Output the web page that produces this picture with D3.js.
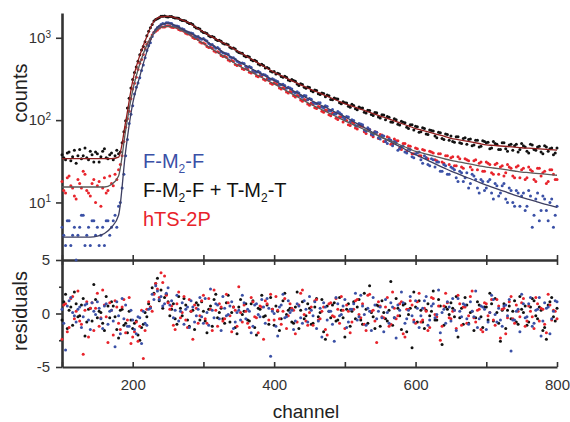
<!DOCTYPE html>
<html>
<head>
<meta charset="utf-8">
<script src="https://cdn.jsdelivr.net/npm/d3@7"></script>
<style>
  body { margin: 0; background: #fff; }
  svg { font-family: Arial, "Liberation Sans", sans-serif; }
</style>
</head>
<body>
<svg id="chart" width="570" height="422"></svg>
<script>
// channel grids: measured points on two interleaved grids (step 5), fits every 10
const channelsA   = d3.range(100, 801, 5);     // 100, 105, ... 800
const channelsB   = d3.range(102.5, 800, 5);   // 102.5, 107.5, ... 797.5
const fitChannels = d3.range(100, 801, 10);

const seriesNames = ["F-M_2-F", "F-M_2-F + T-M_2-T", "hTS-2P"];

// counts, grid A
const countsBlueA = [
  5,3,6,4,2,5,7,4,3,6,
  5,4,3,6,5,7,9,15,37,91,
  149,251,327,468,701,873,1149,1334,1452,1469,
  1528,1491,1390,1372,1288,1190,1154,1131,1019,987,
  978,912,822,781,763,682,648,629,571,548,
  505,495,451,447,402,381,379,358,342,313,
  309,294,268,263,251,238,214,214,190,197,
  183,165,158,163,140,146,129,119,127,118,
  103,109,101,86,91,88,73,77,66,71,
  59,64,52,57,55,43,48,41,45,36,
  39,41,30,35,28,33,31,24,29,22,
  27,25,18,23,20,15,22,19,13,18,
  15,19,11,16,13,17,10,14,9,13,
  12,8,14,5,11,6,12,8,10,5,
  9
];
const countsBlackA = [
  38,33,41,36,30,44,37,35,42,31,
  39,36,45,34,40,37,39,53,98,184,
  311,441,623,781,1058,1322,1597,1706,1823,1841,
  1794,1812,1741,1726,1622,1598,1491,1447,1318,1279,
  1163,1129,1031,1012,927,908,839,821,744,731,
  662,651,590,584,526,519,468,461,436,392,
  389,371,338,342,307,311,296,264,271,243,
  249,221,229,205,211,202,178,186,181,158,
  163,147,156,137,144,140,122,131,114,123,
  106,115,111,95,104,89,97,93,79,88,
  84,71,81,68,76,74,61,70,58,67,
  64,54,63,52,61,58,49,57,47,56,
  53,45,55,51,44,53,42,51,49,41,
  52,47,40,50,43,48,39,47,45,38,
  46
];
const countsRedA = [
  18,13,21,15,11,17,24,14,12,19,
  16,9,20,14,17,22,25,37,82,128,
  238,331,491,626,837,971,1168,1241,1357,1352,
  1396,1341,1352,1258,1231,1139,1112,1008,981,889,
  866,784,767,689,679,609,598,537,529,474,
  469,422,425,381,386,344,348,313,316,281,
  284,269,238,242,213,218,191,196,170,175,
  152,157,138,144,125,131,113,120,102,109,
  104,88,95,80,87,84,69,77,63,71,
  67,55,63,51,59,56,44,52,49,39,
  46,37,44,35,42,40,32,39,30,37,
  35,28,36,27,34,32,25,33,30,24,
  31,29,22,30,27,21,29,26,20,28,
  25,19,27,24,18,26,23,17,25,22,
  19
];

// counts, grid B
const countsBlueB = [
  4,6,3,5,4,7,3,5,6,4,
  3,5,6,4,6,5,10,22,58,118,
  207,283,401,571,798,1037,1248,1378,1487,1521,
  1502,1423,1391,1288,1261,1174,1143,1058,1038,962,
  938,851,829,748,731,660,641,583,571,519,
  489,486,439,436,392,391,355,352,319,318,
  301,271,272,244,246,219,221,197,199,177,
  179,160,162,144,149,131,135,119,123,108,
  111,96,99,85,90,76,81,68,72,61,
  65,55,59,49,53,45,48,40,44,35,
  40,33,37,29,34,27,31,24,28,22,
  26,20,24,18,23,17,21,15,19,14,
  18,13,17,12,16,11,15,10,14,9,
  13,9,12,7,13,8,11,6,11,7
];
const countsBlackB = [
  35,40,32,43,37,34,46,33,38,41,
  31,42,35,38,33,43,41,72,140,246,
  378,519,712,897,1204,1447,1668,1751,1829,1806,
  1819,1759,1744,1652,1627,1531,1486,1361,1305,1197,
  1152,1061,1033,954,932,861,839,768,751,684,
  653,606,598,541,534,481,476,429,424,383,
  362,364,331,331,301,303,275,277,250,252,
  228,232,209,213,192,197,177,182,163,167,
  161,143,151,134,140,125,132,117,124,109,
  116,101,108,94,101,87,94,82,88,76,
  83,72,79,67,75,64,71,60,68,57,
  55,63,53,60,51,59,50,57,48,55,
  54,46,52,44,53,45,50,43,51,44,
  49,42,51,44,47,41,49,42,46,40
];
const countsRedB = [
  14,20,16,12,19,15,22,13,17,10,
  18,15,13,21,16,19,29,55,104,182,
  281,411,546,734,889,1078,1204,1306,1348,1391,
  1377,1329,1321,1231,1201,1109,1077,981,951,866,
  839,761,744,671,659,593,581,522,515,461,
  457,413,416,373,376,337,339,304,306,273,
  276,246,248,219,222,197,199,175,178,157,
  161,141,146,128,133,116,121,105,110,95,
  99,86,91,78,85,72,78,66,72,60,
  66,55,61,51,56,46,52,42,48,39,
  45,37,43,34,41,33,39,31,37,29,
  36,28,34,26,33,27,32,25,31,24,
  30,23,29,22,28,23,27,21,27,20,
  26,20,25,19,26,21,24,18,25,19
];

// fitted decays (channels 100..800, step 10)
const fitBlue = [
  3.8,3.8,3.8,3.8,3.8,3.9,4.2,5.0,7.0,42,
  160,340,680,1170,1440,1510,1413,1274,1161,1047,
  955,841,741,650,580,515,460,412,372,335,
  302,272,244,220,198,178,161,147,133,121,
  110,98,88,79,70.5,63,57,51.5,46.6,42,
  38,34.7,31.6,28.8,26.3,24,22.2,20.5,19,17.5,
  16.2,15.1,14.1,13.2,12.3,11.5,10.9,10.3,9.7,9.2,
  8.7
];
const fitBlack = [
  34,34,34,34,34,34,34,34,35.5,95,
  300,610,1040,1580,1800,1815,1758,1641,1514,1334,
  1175,1047,944,851,759,676,603,537,479,427,
  380,347,316,288,263,240,221,203,187,172,
  158,148,138,129,120,112,105,98,91,85,
  79,75,71,67,64,60,58,56,54,52,
  50,49.3,48.5,47.8,47,46.2,45.6,45,44.4,43.8,
  43.2
];
const fitRed = [
  15.4,15.4,15.4,15.4,15.4,15.4,15.4,16.5,21,75,
  230,480,820,1150,1340,1380,1334,1216,1096,966,
  851,752,664,586,518,457,414,374,339,305,
  275,247,221,198,177,158,144,131,119,108,
  98,89.5,82,75,69,63,58,53.5,49.2,45.3,
  41.7,39.6,37.7,35.8,34,32.4,31.2,30.1,29,27.9,
  26.9,26.2,25.5,24.8,24.1,23.4,23,22.6,22.2,21.8,
  21.4
];

// weighted residuals, grid A
const residBlueA = [
  0.4,-3.4,1.2,0.1,-0.8,0.6,-0.3,0.9,-1.5,0.2,
  1.1,-0.5,0.7,-1.0,0.3,-3.1,-0.2,1.4,0.8,-1.2,
  -0.6,-1.9,-0.4,0.2,-1.1,0.5,1.3,2.1,1.6,0.9,
  2.4,1.2,0.3,-0.7,1.0,0.4,-1.3,0.6,-0.2,1.5,
  -0.9,0.1,2.3,-0.4,0.8,-1.6,0.5,-0.1,1.1,-0.8,
  0.3,1.7,-0.5,0.2,-1.2,0.9,-0.3,0.6,1.4,-4.0,
  0.0,-2.1,0.8,-0.4,1.2,0.3,-0.7,0.7,-0.9,0.4,
  1.6,-0.2,-1.4,0.5,1.0,-0.6,0.2,-2.6,0.9,-0.1,
  1.3,-0.8,0.4,1.9,-0.3,0.7,-1.1,0.2,1.5,-0.5,
  0.6,-1.7,0.1,1.0,-0.4,0.8,2.0,-0.9,0.3,-0.2,
  1.2,-1.3,0.5,1.6,-0.6,0.9,-0.1,-1.8,0.4,1.1,
  -0.7,0.3,1.4,-0.3,0.8,-1.0,0.2,2.1,-0.5,0.6,
  -1.5,0.1,1.3,-0.8,-0.6,0.7,-0.2,-3.5,-0.6,0.4,
  1.8,-0.4,0.9,-1.2,0.3,1.5,-0.7,0.5,-1.9,0.2,
  1.1
];
const residBlackA = [
  -0.6,1.8,0.3,-1.1,0.9,-0.2,1.4,-0.8,0.5,2.7,
  -0.4,0.1,-1.6,0.7,1.1,-0.3,-2.3,0.4,-0.9,0.2,
  -1.4,-0.7,-2.5,-1.0,-0.3,0.6,1.9,3.3,2.2,1.5,
  1.1,0.4,-0.5,1.6,-0.2,0.8,-1.2,0.3,1.0,-0.6,
  0.2,-1.8,0.7,1.3,-0.4,0.5,-0.9,1.7,0.1,-1.3,
  0.6,-0.1,0.9,-0.7,1.2,-2.0,0.4,-0.3,0.8,1.5,
  -1.1,0.2,-0.5,1.9,0.3,-0.8,0.6,-1.4,1.1,-0.2,
  0.5,-0.9,1.4,0.1,-1.7,0.7,-0.4,1.0,-0.6,0.3,
  -2.2,0.9,0.2,-0.5,1.3,-1.0,0.4,2.6,-0.3,0.8,
  -1.2,0.1,-0.7,3.0,-0.4,0.5,-1.5,0.9,-0.1,-3.2,
  0.6,1.2,-0.8,0.3,-0.2,2.1,-0.6,0.7,-1.1,0.4,
  1.0,-0.3,-2.2,0.5,1.5,-0.9,0.2,-0.4,0.8,-1.3,
  0.6,1.9,-0.7,0.1,-2.6,0.9,0.3,-0.5,1.2,-1.0,
  0.4,0.7,-0.8,1.4,-0.2,0.6,-1.6,-2.4,1.1,-0.3,
  0.5
];
const residRedA = [
  -2.4,0.9,-1.3,1.6,0.2,-0.7,-3.8,1.1,0.5,-1.6,
  1.9,-0.4,0.8,-2.7,0.3,1.2,-0.9,0.6,-1.8,1.5,
  -2.2,-0.8,-1.2,-4.2,0.4,0.6,1.8,2.3,3.8,3.5,
  1.0,0.7,-1.5,2.0,0.1,-0.6,1.3,-2.4,0.5,-0.2,
  1.7,-0.9,0.4,2.2,-1.2,0.6,-0.5,1.0,-1.7,0.3,
  2.5,-0.8,0.2,-1.3,1.1,-0.4,0.7,-2.4,0.9,1.8,
  -0.6,0.3,-1.0,1.4,-0.2,0.5,-1.9,0.8,2.2,-0.7,
  0.1,-1.1,1.3,-0.5,0.6,-2.0,1.0,-0.3,0.4,1.6,
  -1.4,0.2,-0.8,1.2,-0.1,0.9,-1.6,1.8,0.3,-2.7,
  0.7,-0.4,1.5,-1.0,0.5,-0.2,1.1,-2.2,0.4,0.8,
  -0.9,1.9,-0.6,0.2,-1.3,1.4,-0.3,-2.5,0.7,1.0,
  -0.5,0.3,1.7,-1.1,0.6,-0.2,2.1,-0.8,0.4,-1.7,
  0.9,0.1,-0.6,1.3,-2.3,0.5,-0.4,1.6,-0.9,0.2,
  1.0,-1.2,0.7,-0.3,1.5,-0.7,0.4,-1.8,0.8,0.3,
  -0.5
];

// weighted residuals, grid B
const residBlueB = [
  -0.9,0.7,1.5,-0.2,0.4,-1.3,0.8,-0.6,1.0,-0.1,
  0.5,-1.4,0.9,0.2,-0.7,1.1,-1.9,-0.5,-1.2,0.3,
  -1.5,-0.3,-2.8,-0.9,0.4,1.8,2.6,1.3,0.7,1.9,
  0.8,-0.4,1.7,0.2,-1.0,0.6,1.2,-0.8,0.4,-0.3,
  1.4,-1.1,0.3,0.9,-0.5,1.6,-0.2,0.7,-1.4,0.1,
  -0.6,1.0,0.4,-1.8,0.8,-0.1,1.3,-0.9,0.5,0.2,
  -1.2,0.6,1.8,-0.3,0.1,-1.5,0.9,-0.4,1.2,-0.8,
  0.3,1.1,-0.7,-2.2,0.6,0.2,-1.0,1.5,-0.2,0.7,
  -1.3,0.4,0.9,-0.6,1.7,-0.1,0.5,-1.6,0.8,0.2,
  -0.4,1.3,-0.9,0.6,-2.3,0.3,1.0,-0.5,1.6,-0.8,
  0.5,-0.2,1.2,-1.1,0.7,-0.4,2.2,0.1,-0.9,0.6,
  1.4,-1.6,0.2,0.9,-0.5,1.1,-0.3,-1.3,0.7,0.4,
  -0.8,1.7,-0.1,0.5,-1.2,0.8,1.3,-0.6,0.2,-1.7,
  0.9,-0.3,1.5,-0.9,0.4,-2.1,1.0,0.6,-0.5,1.2
];
const residBlackB = [
  1.1,-1.4,0.6,2.0,-0.3,0.8,-2.1,0.4,-0.7,1.3,
  0.2,-0.9,1.6,-0.4,0.7,-1.5,0.3,-1.1,-1.8,-0.6,
  -0.9,-2.0,-1.3,0.1,0.9,2.4,2.8,1.2,0.5,1.8,
  -0.2,0.9,-1.0,0.5,1.4,-0.6,0.2,-1.5,0.8,1.1,
  -0.7,0.4,-1.2,1.8,0.1,-0.5,1.0,-0.8,0.6,-1.9,
  1.3,0.2,-0.6,0.9,-1.3,0.5,1.7,-0.2,-1.0,0.4,
  0.7,-1.6,1.2,-0.1,0.5,-0.9,2.0,0.3,-0.5,0.9,
  -1.0,0.6,-0.3,1.3,-2.4,0.2,0.8,-0.7,1.5,-0.4,
  0.4,-1.2,1.1,0.6,-0.6,1.9,-0.9,0.1,-1.4,0.7,
  1.2,-0.5,0.3,-1.1,1.4,-0.2,0.8,-1.7,0.5,2.0,
  -0.8,0.3,-1.4,0.9,0.2,-0.6,1.3,-2.9,0.6,-0.1,
  0.5,1.6,-0.4,-1.0,0.8,0.1,-1.6,1.1,-0.3,0.6,
  -0.6,0.9,1.4,-0.9,0.3,-1.4,0.7,0.2,-0.8,1.6,
  0.1,-1.1,0.6,1.2,-0.5,0.3,-1.3,0.8,1.5,-0.7
];
const residRedB = [
  0.8,-1.7,1.4,-0.5,2.1,-1.0,0.3,-2.2,1.0,0.5,
  -1.2,2.2,-0.3,1.0,-2.0,0.6,-1.5,1.3,-0.6,-2.8,
  -1.7,-2.6,0.3,-1.6,1.1,0.2,2.8,1.5,2.9,1.7,
  0.4,-1.1,0.9,-0.4,1.6,-1.3,0.2,0.8,-0.9,1.2,
  -0.5,1.4,-1.6,0.3,0.9,-0.7,1.8,-0.2,0.6,-1.2,
  0.1,0.8,-0.9,1.5,-0.3,-1.8,0.6,1.2,-0.6,0.4,
  1.6,-0.5,0.2,-1.4,0.9,0.3,-0.8,1.9,-0.1,-1.1,
  0.6,1.2,-0.6,0.2,-1.5,0.9,-0.2,1.4,-0.9,0.3,
  0.8,-1.8,0.4,1.3,-0.4,-1.0,1.7,0.2,-0.7,1.1,
  -0.3,0.6,-1.2,2.0,-0.5,0.9,-1.9,0.4,1.2,-0.6,
  1.1,-0.8,0.5,-1.6,1.5,-0.1,0.7,-1.2,1.9,-0.4,
  0.2,-1.4,0.9,0.6,-0.9,1.6,-0.4,0.3,-1.5,1.0,
  -0.2,1.3,-1.1,0.7,0.4,-1.9,1.1,-0.5,0.8,-0.3,
  1.4,-0.7,0.2,-1.4,0.9,0.5,-1.0,1.8,-0.6,0.2
];

const xTicks = [100, 200, 300, 400, 500, 600, 700, 800];
const xLabels = [200, 400, 600, 800];
const countTicks = [10, 100, 1000];
const residTicks = [-5, -2.5, 0, 2.5, 5];

const colorBlue = "#3a50a6", colorBlack = "#111111", colorRed = "#e8232b";
const axisColor = "#333";

const svg = d3.select("#chart");

const x      = d3.scaleLinear().domain([100, 800]).range([62, 557]);
const yCount = d3.scaleLog().domain([2, 2000]).range([260, 13]);
const yRes   = d3.scaleLinear().domain([-5, 5]).range([367, 260]);

function styleAxis(g) {
  g.attr("font-size", 15).attr("font-family", "Arial, 'Liberation Sans', sans-serif");
  g.selectAll("path.domain").attr("stroke", axisColor).attr("stroke-width", 2);
  g.selectAll(".tick line").attr("stroke", axisColor).attr("stroke-width", 1.6);
  g.selectAll(".tick text").attr("fill", axisColor);
}

// ---- top panel (counts, log) ----
let gyc = svg.append("g")
  .attr("transform", "translate(" + x(100) + ",0)")
  .call(d3.axisLeft(yCount).tickValues(countTicks).tickSize(6).tickSizeOuter(0).tickPadding(5).tickFormat(""))
  .call(styleAxis);
gyc.selectAll(".tick text").each(function(d) {
  let t = d3.select(this);
  t.append("tspan").text("10");
  t.append("tspan").attr("dy", "-0.55em").attr("font-size", 10).text(Math.round(Math.log10(d)));
});
gyc.select("path.domain").attr("stroke-width", 2.6);

svg.append("g")
  .attr("transform", "translate(0," + yCount.range()[0] + ")")
  .call(d3.axisBottom(x).tickValues(xTicks).tickSize(-5).tickSizeOuter(0).tickFormat(""))
  .call(styleAxis);

// ---- residual panel ----
let gyr = svg.append("g")
  .attr("transform", "translate(" + x(100) + ",0)")
  .call(d3.axisLeft(yRes).tickValues(residTicks).tickSize(6).tickSizeOuter(0).tickPadding(6)
    .tickFormat(d => d % 5 === 0 ? String(d) : ""))
  .call(styleAxis);
gyr.selectAll(".tick line").attr("x2", d => d % 5 === 0 ? -6 : -3);
gyr.select("path.domain").attr("stroke-width", 2.6);

svg.append("g")
  .attr("transform", "translate(0," + yRes.range()[1] + ")")
  .call(d3.axisTop(x).tickValues(xTicks).tickSize(-5).tickSizeOuter(0).tickFormat(""))
  .call(styleAxis);

svg.append("g")
  .attr("transform", "translate(0," + yRes.range()[0] + ")")
  .call(d3.axisBottom(x).tickValues(xTicks).tickSize(-5).tickSizeOuter(0).tickPadding(12)
    .tickFormat(d => xLabels.includes(d) ? d : ""))
  .call(styleAxis);

// axis titles
svg.append("text")
  .attr("transform", "translate(27,93) rotate(-90)")
  .attr("text-anchor", "middle").attr("font-size", 20).attr("fill", "#222")
  .text("counts");
svg.append("text")
  .attr("transform", "translate(27,311) rotate(-90)")
  .attr("text-anchor", "middle").attr("font-size", 20).attr("fill", "#222")
  .text("residuals");
svg.append("text")
  .attr("x", 306).attr("y", 418)
  .attr("text-anchor", "middle").attr("font-size", 19).attr("fill", "#222")
  .text("channel");

// ---- data points ----
const series = [
  { counts: [countsBlackA, countsBlackB], resid: [residBlackA, residBlackB], fit: fitBlack, color: colorBlack, fitColor: "#8e1d1d" },
  { counts: [countsRedA, countsRedB],     resid: [residRedA, residRedB],     fit: fitRed,   color: colorRed,   fitColor: "#5a5a5a" },
  { counts: [countsBlueA, countsBlueB],   resid: [residBlueA, residBlueB],   fit: fitBlue,  color: colorBlue,  fitColor: "#3d3f62" }
];
const grids = [channelsA, channelsB];

function pairs(values, grid) {
  return values.map((v, i) => [grid[i], v]);
}

series.forEach(function(s) {
  let pts = pairs(s.counts[0], grids[0]).concat(pairs(s.counts[1], grids[1])).filter(d => d[1] >= 2);
  svg.append("g")
    .selectAll("circle")
    .data(pts)
    .join("circle")
    .attr("cx", d => x(d[0]))
    .attr("cy", d => yCount(d[1]))
    .attr("r", 1.5)
    .attr("fill", s.color);

  let res = pairs(s.resid[0], grids[0]).concat(pairs(s.resid[1], grids[1]));
  svg.append("g")
    .selectAll("circle")
    .data(res)
    .join("circle")
    .attr("cx", d => x(d[0]))
    .attr("cy", d => yRes(d[1]))
    .attr("r", 1.5)
    .attr("fill", s.color);
});

// ---- fit curves ----
let line = d3.line()
  .x(d => x(d[0]))
  .y(d => yCount(d[1]))
  .curve(d3.curveMonotoneX);

series.slice().reverse().forEach(function(s) {
  svg.append("path")
    .attr("fill", "none")
    .attr("stroke", s.fitColor)
    .attr("stroke-width", 1.3)
    .attr("d", line(pairs(s.fit, fitChannels)));
});

// ---- legend ----
const legendColors = [colorBlue, colorBlack, colorRed];
seriesNames.forEach(function(name, i) {
  let t = svg.append("text")
    .attr("x", 143).attr("y", 168 + i * 29)
    .attr("font-size", 20).attr("fill", legendColors[i]);
  name.split(/_(\d)/).forEach(function(part, j) {
    if (j % 2 === 1) {
      t.append("tspan").attr("font-size", 12).attr("dy", 5).text(part);
    } else if (part) {
      t.append("tspan").attr("dy", j > 0 ? -5 : 0).text(part);
    }
  });
});
</script>
</body>
</html>
